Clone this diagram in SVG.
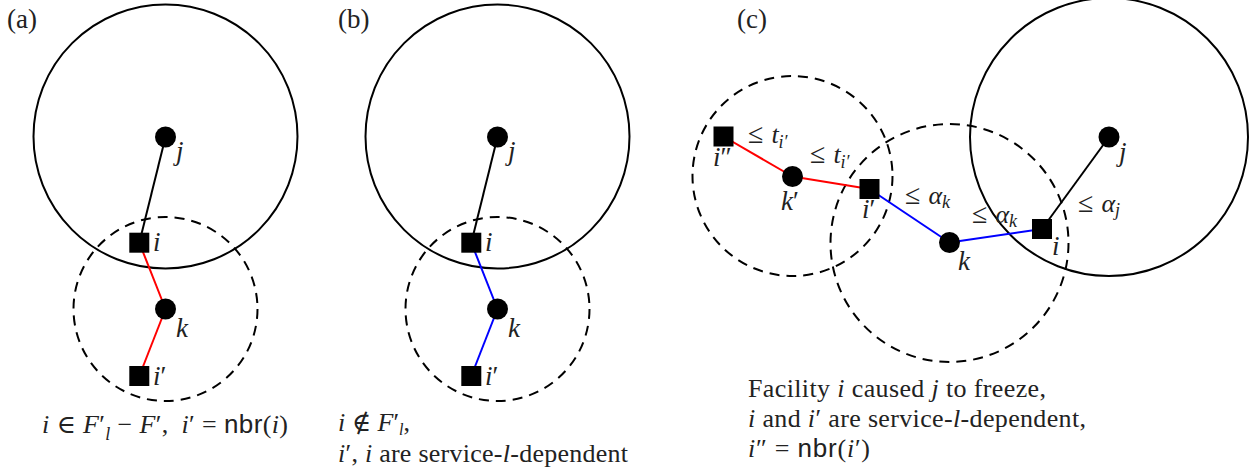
<svg xmlns="http://www.w3.org/2000/svg" width="1260" height="471" viewBox="0 0 1260 471">
<style>
.ball{fill:none;stroke:#000;stroke-width:2}
.dball{fill:none;stroke:#000;stroke-width:2;stroke-dasharray:10 7}
.cl{fill:#000}
.fac{fill:#000}
.ln{stroke-width:2;fill:none}
.blk{stroke:#000}
.red{stroke:#ff0000}
.blu{stroke:#0000ff}
text{font-family:"Liberation Serif","DejaVu Serif",serif;fill:#222}
.lab{font-size:27px;font-style:italic}
.elab{font-size:26px;font-style:italic}
.cap{font-size:26px}
.pn{font-size:27px}
.it{font-style:italic}
.sf{font-family:"Liberation Sans","DejaVu Sans",sans-serif;font-style:normal}
.up{font-style:normal}
.le{font-style:normal;font-size:28px}
.sub{font-size:18px}
.sub2{font-size:16px}
</style>

<!-- panel labels -->
<text class="pn" x="7" y="28">(a)</text>
<text class="pn" x="338" y="28">(b)</text>
<text class="pn" x="737" y="28">(c)</text>

<!-- balls -->
<g id="balls">
  <circle class="ball" cx="165.5" cy="136.5" r="132"/>
  <circle class="dball" cx="165.5" cy="309" r="92"/>
  <circle class="ball" cx="497.5" cy="136.5" r="132"/>
  <circle class="dball" cx="497.5" cy="309" r="92"/>
  <circle class="ball" cx="1109" cy="137" r="139"/>
  <circle class="dball" cx="792.5" cy="176" r="100"/>
  <circle class="dball" cx="949.5" cy="243" r="119"/>
</g>

<g id="connectors">
  <line class="ln blk" x1="165.5" y1="137" x2="139.3" y2="242.7"/>
  <line class="ln red" x1="139.3" y1="242.7" x2="165.5" y2="309"/>
  <line class="ln red" x1="165.5" y1="309" x2="139.3" y2="376"/>

  <line class="ln blk" x1="497.5" y1="137" x2="471.3" y2="242.7"/>
  <line class="ln blu" x1="471.3" y1="242.7" x2="497.5" y2="309"/>
  <line class="ln blu" x1="497.5" y1="309" x2="471.3" y2="376"/>

  <line class="ln red" x1="723.5" y1="136.5" x2="792.5" y2="176.5"/>
  <line class="ln red" x1="792.5" y1="176.5" x2="869.5" y2="189"/>
  <line class="ln blu" x1="869.5" y1="189" x2="949.5" y2="242.5"/>
  <line class="ln blu" x1="949.5" y1="242.5" x2="1042" y2="229"/>
  <line class="ln blk" x1="1042" y1="229" x2="1109" y2="137"/>
</g>

<!-- panel (a) nodes -->
<g id="a-j"><circle class="cl" cx="165.5" cy="137" r="10.5"/><text class="lab" x="176" y="160">j</text></g>
<g id="a-i"><rect class="fac" x="129.3" y="232.7" width="20" height="20"/><text class="lab" x="153" y="251">i</text></g>
<g id="a-k"><circle class="cl" cx="165.5" cy="309" r="10.5"/><text class="lab" x="176" y="337">k</text></g>
<g id="a-ip"><rect class="fac" x="129.3" y="366" width="20" height="20"/><text class="lab" x="153" y="385">i<tspan class="up">′</tspan></text></g>

<!-- panel (b) nodes -->
<g id="b-j"><circle class="cl" cx="497.5" cy="137" r="10.5"/><text class="lab" x="508" y="160">j</text></g>
<g id="b-i"><rect class="fac" x="461.3" y="232.7" width="20" height="20"/><text class="lab" x="485" y="251">i</text></g>
<g id="b-k"><circle class="cl" cx="497.5" cy="309" r="10.5"/><text class="lab" x="508" y="337">k</text></g>
<g id="b-ip"><rect class="fac" x="461.3" y="366" width="20" height="20"/><text class="lab" x="485" y="385">i<tspan class="up">′</tspan></text></g>

<!-- panel (c) nodes -->
<g id="c-ipp"><rect class="fac" x="713.5" y="126.5" width="20" height="20"/><text class="lab" x="713" y="166">i<tspan class="up">″</tspan></text></g>
<g id="c-kp"><circle class="cl" cx="792.5" cy="176.5" r="10.5"/><text class="lab" x="781" y="210">k<tspan class="up">′</tspan></text></g>
<g id="c-ip"><rect class="fac" x="859.5" y="179" width="20" height="20"/><text class="lab" x="862" y="218">i<tspan class="up">′</tspan></text></g>
<g id="c-k"><circle class="cl" cx="949.5" cy="242.5" r="10.5"/><text class="lab" x="958" y="270">k</text></g>
<g id="c-i"><rect class="fac" x="1032" y="219" width="20" height="20"/><text class="lab" x="1052" y="255">i</text></g>
<g id="c-j"><circle class="cl" cx="1109" cy="137" r="10.5"/><text class="lab" x="1119" y="161">j</text></g>

<!-- edge labels (c) -->
<g id="edge-labels">
  <text class="elab" x="748" y="143"><tspan class="le">≤</tspan><tspan dx="8">t</tspan><tspan class="sub" dy="5">i′</tspan></text>
  <text class="elab" x="810" y="163"><tspan class="le">≤</tspan><tspan dx="8">t</tspan><tspan class="sub" dy="5">i′</tspan></text>
  <text class="elab" x="905" y="204"><tspan class="le">≤</tspan><tspan dx="8">α</tspan><tspan class="sub" dy="4">k</tspan></text>
  <text class="elab" x="972" y="223"><tspan class="le">≤</tspan><tspan dx="8">α</tspan><tspan class="sub" dy="4">k</tspan></text>
  <text class="elab" x="1078" y="212"><tspan class="le">≤</tspan><tspan dx="8">α</tspan><tspan class="sub" dy="4">j</tspan></text>
</g>

<!-- captions -->
<g id="captions">
  <text class="cap" x="42" y="433" textLength="246" lengthAdjust="spacing"><tspan class="it">i</tspan> ∈ <tspan class="it">F</tspan>′<tspan class="it sub" dy="7">l</tspan><tspan dy="-7"> − </tspan><tspan class="it">F</tspan>′,  <tspan class="it" dx="6">i</tspan>′ = <tspan class="sf">nbr</tspan>(<tspan class="it">i</tspan>)</text>

  <text class="cap" x="338" y="431"><tspan class="it">i</tspan> ∉ <tspan class="it">F</tspan>′<tspan class="it sub2" dy="4">l</tspan><tspan dy="-4">,</tspan></text>
  <text class="cap" x="338" y="462" textLength="290" lengthAdjust="spacing"><tspan class="it">i</tspan>′, <tspan class="it">i</tspan> are service-<tspan class="it">l</tspan>-dependent</text>

  <text class="cap" x="748" y="397" textLength="298" lengthAdjust="spacing">Facility <tspan class="it">i</tspan> caused <tspan class="it">j</tspan> to freeze,</text>
  <text class="cap" x="748" y="427" textLength="338" lengthAdjust="spacing"><tspan class="it">i</tspan> and <tspan class="it">i</tspan>′ are service-<tspan class="it">l</tspan>-dependent,</text>
  <text class="cap" x="748" y="457" textLength="122" lengthAdjust="spacing"><tspan class="it">i</tspan>″ = <tspan class="sf">nbr</tspan>(<tspan class="it">i</tspan>′)</text>
</g>
</svg>
